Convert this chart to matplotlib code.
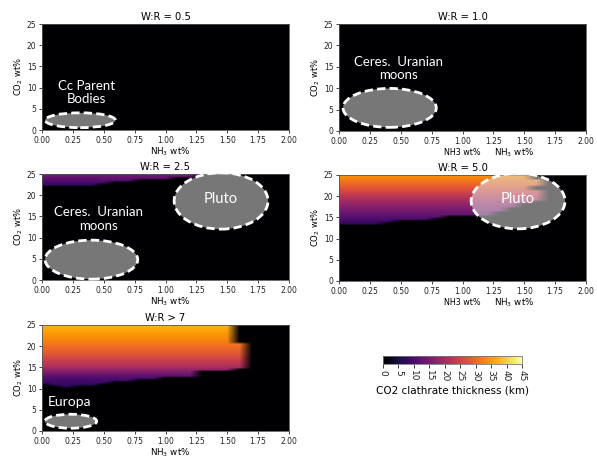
import numpy as np
import matplotlib
matplotlib.use("Agg")
import matplotlib.pyplot as plt
from matplotlib.patches import Ellipse
from matplotlib.cm import ScalarMappable
from matplotlib.colors import Normalize

# canvas in pixels
_fig_w, _fig_h = 597, 458

titles = ["W:R = 0.5", "W:R = 1.0", "W:R = 2.5", "W:R = 5.0", "W:R > 7"]
x_ticks = [0.0, 0.25, 0.5, 0.75, 1.0, 1.25, 1.5, 1.75, 2.0]
y_ticks = [0, 5, 10, 15, 20, 25]
cbar_ticks = [0, 5, 10, 15, 20, 25, 30, 35, 40, 45]

# model grid: NH3 columns every 0.1 wt%, CO2 rows every 0.5 wt%
nh3_cols = [0.0, 0.1, 0.2, 0.3, 0.4, 0.5, 0.6, 0.7, 0.8, 0.9, 1.0,
            1.1, 1.2, 1.3, 1.4, 1.5, 1.6, 1.7, 1.8, 1.9, 2.0]
co2_rows = np.arange(51) * 0.5

# clathrate thickness (km) against CO2 wt%
wr25_co2 = [22.5, 25.0]
wr25_thick = [8.0, 15.0]
wr5_co2 = [13.5, 16.0, 18.5, 21.5, 25.0]
wr5_thick = [8.0, 13.5, 19.0, 27.0, 35.0]
wr7_co2 = [10.5, 12.8, 15.2, 18.4, 21.5, 25.0]
wr7_thick = [7.0, 11.0, 21.0, 28.0, 33.0, 37.5]

# lowest CO2 wt% holding clathrate in each NH3 column (99 = none)
wr25_onset = [22.5, 22.5, 22.5, 22.5, 22.5, 23.0, 23.5, 23.5, 24.0, 24.0,
              24.0, 24.5, 24.5, 99, 99, 99, 99, 99, 99, 99, 99]
wr5_onset = [13.5, 13.5, 13.5, 13.5, 14.0, 14.5, 14.5, 14.5, 15.0, 15.5,
             15.5, 15.5, 15.5, 16.5, 17.5, 18.5, 19.0, 99, 99, 99, 99]
wr7_onset = [11.5, 11.0, 10.5, 11.0, 11.0, 11.5, 12.0, 12.0, 12.5, 12.5,
             13.0, 13.0, 13.0, 14.5, 14.5, 14.5, 15.0, 99, 99, 99, 99]

# highest NH3 wt% holding clathrate, from each CO2 wt% break upwards
wr25_edge_co2 = [0.0]
wr25_edge = [2.0]
wr5_edge_co2 = [0.0, 19.0, 21.5, 22.5, 24.0]
wr5_edge = [1.55, 1.65, 1.55, 1.65, 1.55]
wr7_edge_co2 = [0.0, 14.5, 21.0]
wr7_edge = [1.45, 1.65, 1.55]


def _field(prof_co2=None, prof_thick=None, onset=None,
           edge_co2=None, edge=None):
    nh3 = np.asarray(nh3_cols)
    grid = np.zeros((co2_rows.size, nh3.size))
    if prof_co2 is None:
        return grid  # no clathrate at all
    lo = np.asarray(onset, dtype=float)
    hi = np.asarray(edge)[
        np.searchsorted(edge_co2, co2_rows, side='right') - 1]
    thick = np.interp(co2_rows, prof_co2, prof_thick)
    inside = ((co2_rows[:, None] >= lo[None, :]) &
              (nh3[None, :] <= hi[:, None]))
    full = np.broadcast_to(thick[:, None], grid.shape)
    grid[inside] = full[inside]
    return grid


fields = [
    _field(),
    _field(),
    _field(wr25_co2, wr25_thick, wr25_onset, wr25_edge_co2, wr25_edge),
    _field(wr5_co2, wr5_thick, wr5_onset, wr5_edge_co2, wr5_edge),
    _field(wr7_co2, wr7_thick, wr7_onset, wr7_edge_co2, wr7_edge),
]

# axes boxes in pixels: left, top, right, bottom
boxes = [
    (42, 24, 289, 130),
    (339, 24, 586, 131),
    (42, 174, 289, 280),
    (339, 175, 586, 281),
    (42, 325, 289, 431),
]

# (x, y, width, height) of the body outlines
ellipses = [
    [(0.31, 2.3, 0.57, 3.5)],
    [(0.41, 5.4, 0.755, 9.1)],
    [(0.40, 4.8, 0.75, 9.2), (1.45, 18.65, 0.76, 13.3)],
    [(1.45, 18.85, 0.76, 13.1)],
    [(0.233, 2.3, 0.42, 3.3)],
]
labels = [
    [("Cc Parent\nBodies", 0.36, 8.8, 9.5, 'center')],
    [("Ceres.  Uranian\nmoons", 0.48, 14.6, 9.5, 'center')],
    [("Ceres.  Uranian\nmoons", 0.46, 14.4, 9.5, 'center'),
     ("Pluto", 1.45, 19.0, 10.5, 'center')],
    [("Pluto", 1.45, 19.3, 10.5, 'center')],
    [("Europa", 0.05, 6.9, 10, 'left')],
]

cmap = plt.get_cmap('inferno')
norm = Normalize(vmin=0, vmax=45)
ann_font = ['Lato', 'DejaVu Sans']

fig = plt.figure(figsize=(_fig_w / 100, _fig_h / 100), dpi=100)


def _px_axes(left, top, right, bottom):
    return fig.add_axes([left / _fig_w, 1 - bottom / _fig_h,
                         (right - left) / _fig_w, (bottom - top) / _fig_h])


for idx, box in enumerate(boxes):
    ax = _px_axes(*box)
    ax.imshow(fields[idx], origin='lower', extent=[-0.05, 2.05, -0.25, 25.25],
              aspect='auto', cmap=cmap, norm=norm, interpolation='bilinear')
    ax.set_xlim(0, 2)
    ax.set_ylim(0, 25)
    ax.set_xticks(x_ticks)
    ax.set_xticklabels(["%.2f" % t for t in x_ticks])
    ax.set_yticks(y_ticks)
    ax.tick_params(labelsize=5.5, length=2.5, width=0.6, pad=1.5,
                   colors='#222222')
    for sp in ax.spines.values():
        sp.set_linewidth(0.6)
        sp.set_color('#555555')
    ax.set_title(titles[idx], fontsize=7.2, pad=3)
    ax.set_ylabel("CO$_2$ wt%", fontsize=6, labelpad=1)
    if idx in (1, 3):
        ax.set_xlabel("NH3 wt%", fontsize=5.8, labelpad=1.5)
        ax.annotate("NH$_3$ wt%", xy=(0.71, 0), xycoords='axes fraction',
                    xytext=(0, -11.5), textcoords='offset points',
                    ha='center', va='top', fontsize=6.3)
    else:
        ax.set_xlabel("NH$_3$ wt%", fontsize=6.3, labelpad=3)
        ax.xaxis.set_label_coords(0.52, -0.15)
    for (ex, ey, ew, eh) in ellipses[idx]:
        ax.add_patch(Ellipse((ex, ey), ew, eh,
                             facecolor=(0.886, 0.886, 0.886, 0.53),
                             edgecolor='white', linewidth=2,
                             linestyle=(0, (3, 1.5)), clip_on=False,
                             zorder=3))
    for (txt, tx, ty, fs, ha) in labels[idx]:
        ax.text(tx, ty, txt, color='white', fontsize=fs, ha=ha,
                va='center', family=ann_font, linespacing=1.15, zorder=4)

cax = _px_axes(383, 356, 522, 364)
cb = fig.colorbar(ScalarMappable(norm=norm, cmap=cmap), cax=cax,
                  orientation='horizontal', ticks=cbar_ticks)
cb.outline.set_linewidth(0.6)
cb.outline.set_edgecolor('#777777')
cax.tick_params(labelsize=6.5, length=3, width=0.6, pad=1.5,
                labelrotation=270, colors='#222222')
cb.set_label("CO2 clathrate thickness (km)", fontsize=7.5, labelpad=3)

fig.savefig("out.png", dpi=100)
